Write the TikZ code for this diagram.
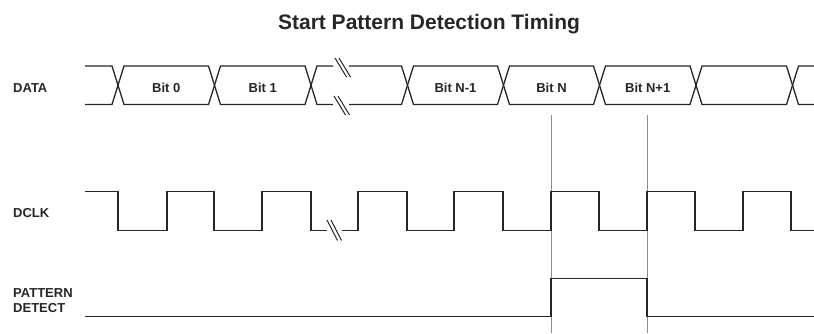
\documentclass[tikz,border=0pt]{standalone}
\usepackage{fontspec}
\setmainfont{Liberation Sans}
\begin{document}
\begin{tikzpicture}[x=1pt,y=-1pt,
  wave/.style={draw=black!85, line width=1.3pt, line join=miter},
  marker/.style={draw=black!45, line width=1pt},
  brk/.style={draw=black!85, line width=1pt},
  lbl/.style={font=\bfseries\fontsize{13}{15}\selectfont, text=black!85, inner sep=0pt, anchor=base},
  sig/.style={lbl, anchor=base west, align=left},
  ttl/.style={font=\bfseries\fontsize{21}{25}\selectfont, text=black!85, inner sep=0pt, anchor=base},
]
\useasboundingbox (0,0) rectangle (814,333);

% title
\node[ttl] (title) at (429,29) {Start Pattern Detection Timing};

% signal names
\node[sig] (ldata) at (13,92) {DATA};
\node[sig] (ldclk) at (13,217) {DCLK};
\node[sig] (lpd1) at (13,297) {PATTERN};
\node[sig] (lpd2) at (13,312) {DETECT};

% marker lines
\draw[marker] (551,115) -- (551,333);
\draw[marker] (647,115) -- (647,333);

% DATA bus
\draw[wave] (85,66) -- (112,66) -- (118,85.25) -- (112,104.5) -- (85,104.5);
\foreach \a/\b in {118/214.5, 214.5/311, 407.5/503.5, 503.5/599.5, 599.5/696, 696/792.5}{
  \draw[wave] (\a,85.25) -- (\a+6,66) -- (\b-6,66) -- (\b,85.25) -- (\b-6,104.5) -- (\a+6,104.5) -- cycle;
}
\draw[wave] (333,66) -- (317,66) -- (311,85.25) -- (317,104.5) -- (333,104.5);
\draw[wave] (349,66) -- (401.5,66) -- (407.5,85.25) -- (401.5,104.5) -- (349,104.5);
\draw[wave] (814,66) -- (798.5,66) -- (792.5,85.25) -- (798.5,104.5) -- (814,104.5);
% DATA break marks
\draw[brk] (335,58) -- (346.5,77);
\draw[brk] (339,58) -- (350.5,77);
\draw[brk] (334,96) -- (345.5,115);
\draw[brk] (338,96) -- (349.5,115);

% bit labels
\node[lbl] (bit0) at (166.25,92) {Bit 0};
\node[lbl] (bit1) at (262.75,92) {Bit 1};
\node[lbl] (bitnm) at (455.5,92) {Bit N-1};
\node[lbl] (bitn) at (551.5,92) {Bit N};
\node[lbl] (bitnp) at (647.75,92) {Bit N+1};

% DCLK
\draw[wave] (85,191.7) -- (118,191.7) -- (118,230.3) -- (167,230.3) -- (167,191.7)
  -- (214,191.7) -- (214,230.3) -- (262,230.3) -- (262,191.7) -- (311,191.7)
  -- (311,230.3) -- (327,230.3);
\draw[wave] (342,230.3) -- (358,230.3) -- (358,191.7) -- (407,191.7) -- (407,230.3)
  -- (454,230.3) -- (454,191.7) -- (503,191.7) -- (503,230.3) -- (551,230.3)
  -- (551,191.7) -- (599,191.7) -- (599,230.3) -- (647,230.3) -- (647,191.7)
  -- (695,191.7) -- (695,230.3) -- (743,230.3) -- (743,191.7) -- (791,191.7)
  -- (791,230.3) -- (814,230.3);
\draw[brk] (327,220) -- (337.5,240.5);
\draw[brk] (331,220) -- (341.5,240.5);

% PATTERN DETECT
\draw[wave] (85,316.7) -- (551,316.7) -- (551,278.3) -- (647,278.3) -- (647,316.7) -- (814,316.7);
\end{tikzpicture}
\end{document}
